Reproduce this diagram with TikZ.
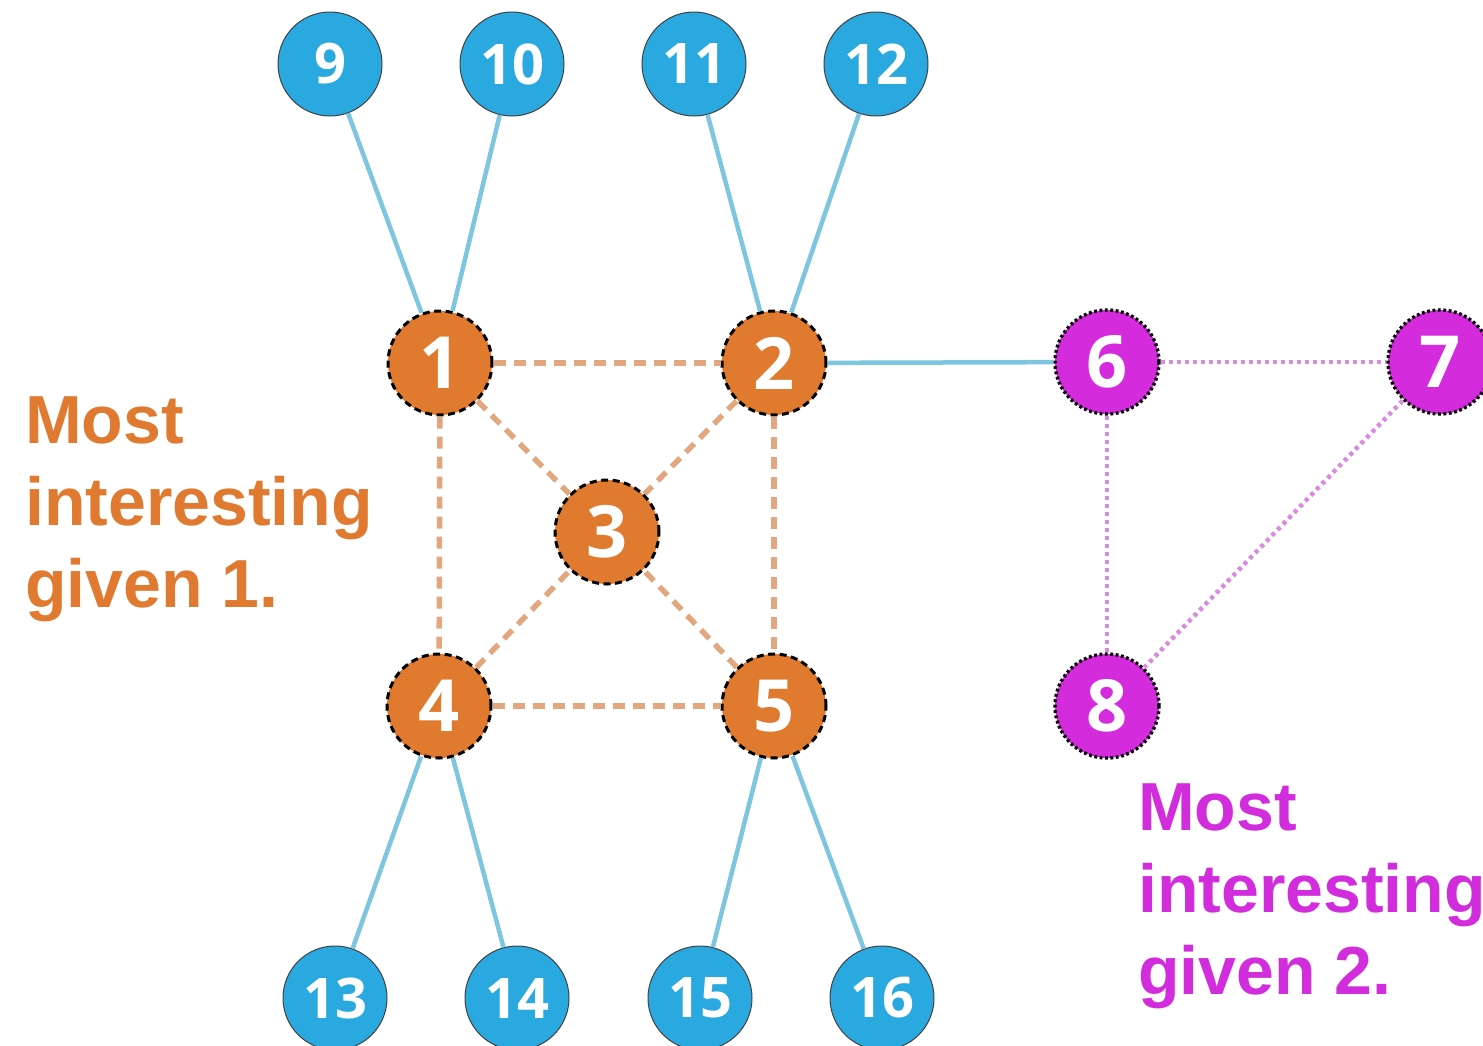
\documentclass[tikz,border=0pt]{standalone}
\usepackage{fontspec}
\setmainfont{Liberation Sans}
\newfontfamily\numfont{Open Sans}
\newfontfamily\labfont{Liberation Sans}
\definecolor{nodeorange}{HTML}{DF7A2F}
\definecolor{nodeblue}{HTML}{2AA9E0}
\definecolor{nodepurple}{HTML}{D42CDD}
\definecolor{edgeblue}{HTML}{7EC5DF}
\definecolor{edgeorange}{HTML}{E2A77E}
\definecolor{edgepurple}{HTML}{D98BE0}
\definecolor{txtorange}{HTML}{E07A30}
\definecolor{txtpurple}{HTML}{D22DDC}
\begin{document}
\begin{tikzpicture}[x=1pt,y=-1pt,
  vert/.style={circle,minimum size=104pt,inner sep=0pt,text=white},
  bluenode/.style={vert,fill=nodeblue,draw=black!75,line width=1pt,
    font=\numfont\bfseries\fontsize{56}{56}\selectfont},
  orangenode/.style={vert,fill=nodeorange,draw=black,line width=3pt,
    dash pattern=on 7pt off 4.5pt,font=\numfont\bfseries\fontsize{72}{72}\selectfont},
  purplenode/.style={vert,fill=nodepurple,draw=black,line width=3.4pt,
    dash pattern=on 2.8pt off 2.6pt,font=\numfont\bfseries\fontsize{72}{72}\selectfont},
  solidedge/.style={draw=edgeblue,line width=4.5pt},
  dashedge/.style={draw=edgeorange,line width=5.5pt,dash pattern=on 12pt off 8pt},
  dotedge/.style={draw=edgepurple,line width=4.5pt,dash pattern=on 4pt off 4pt},
  orangelabel/.style={anchor=base west,inner sep=0pt,text=txtorange,
    font=\labfont\bfseries\fontsize{68}{82}\selectfont},
  purplelabel/.style={anchor=base west,inner sep=0pt,text=txtpurple,
    font=\labfont\bfseries\fontsize{68}{82}\selectfont}]
\useasboundingbox (0,0) rectangle (1483,1045);

% outer (blue) vertices
\node[bluenode] (n9)  at (330,64) {9};
\node[bluenode] (n10) at (512,64) {10};
\node[bluenode] (n11) at (694,64) {11};
\node[bluenode] (n12) at (876,64) {12};
\node[bluenode] (n13) at (335,998) {13};
\node[bluenode] (n14) at (517,998) {14};
\node[bluenode] (n15) at (700,998) {15};
\node[bluenode] (n16) at (882,998) {16};

% orange cluster
\node[orangenode] (n1) at (440,363) {1};
\node[orangenode] (n2) at (774,363) {2};
\node[orangenode] (n3) at (607,532) {3};
\node[orangenode] (n4) at (439,706) {4};
\node[orangenode] (n5) at (774,706) {5};

% purple cluster
\node[purplenode] (n6) at (1107,362) {6};
\node[purplenode] (n7) at (1440,362) {7};
\node[purplenode] (n8) at (1107,706) {8};

% solid connections
\draw[solidedge] (n9) -- (n1);
\draw[solidedge] (n10) -- (n1);
\draw[solidedge] (n11) -- (n2);
\draw[solidedge] (n12) -- (n2);
\draw[solidedge] (n4) -- (n13);
\draw[solidedge] (n4) -- (n14);
\draw[solidedge] (n5) -- (n15);
\draw[solidedge] (n5) -- (n16);
\draw[solidedge] (n2) -- (n6);

% dashed connections inside the orange cluster
\draw[dashedge] (n1) -- (n2);
\draw[dashedge] (n1) -- (n4);
\draw[dashedge] (n2) -- (n5);
\draw[dashedge] (n4) -- (n5);
\draw[dashedge] (n1) -- (n3);
\draw[dashedge] (n2) -- (n3);
\draw[dashedge] (n4) -- (n3);
\draw[dashedge] (n5) -- (n3);

% dotted connections inside the purple cluster
\draw[dotedge] (n6) -- (n7);
\draw[dotedge] (n6) -- (n8);
\draw[dotedge] (n7) -- (n8);

% captions
\node[orangelabel] (la1) at (25,443) {Most};
\node[orangelabel] (la2) at (25,525) {interesting};
\node[orangelabel] (la3) at (25,607) {given 1.};
\node[purplelabel] (lb1) at (1138,830) {Most};
\node[purplelabel] (lb2) at (1138,912) {interesting};
\node[purplelabel] (lb3) at (1138,994) {given 2.};
\end{tikzpicture}
\end{document}
